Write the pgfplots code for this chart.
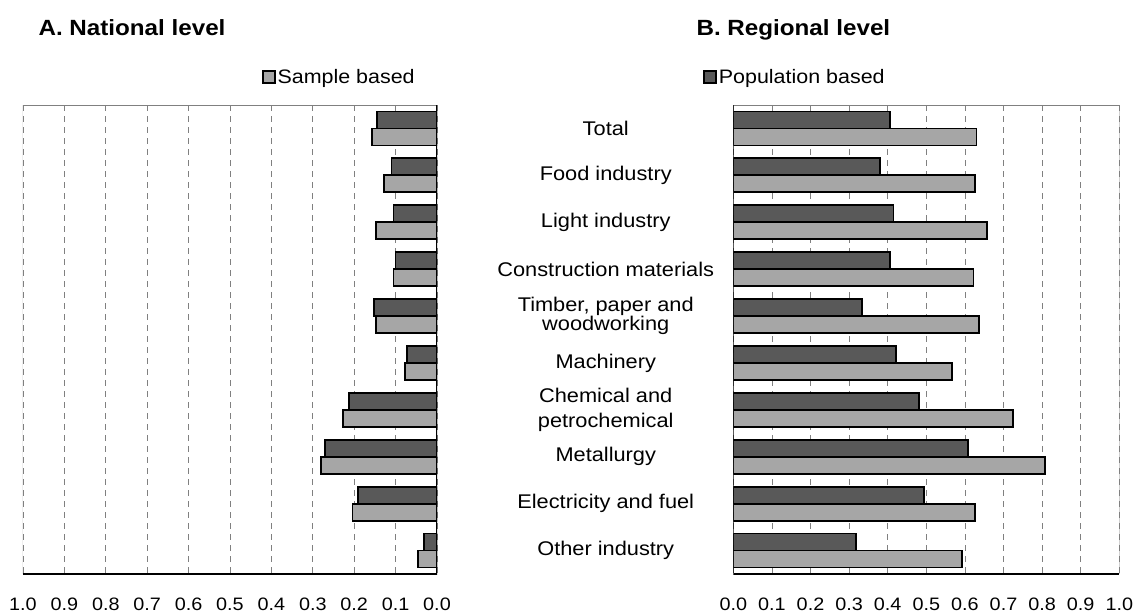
\documentclass[border=0pt]{standalone}
\usepackage{fontspec}
\setmainfont{Liberation Sans}[FakeStretch=1.1]
\usepackage{pgfplots}
\pgfplotsset{compat=1.18}
\definecolor{dk}{RGB}{89,89,89}
\definecolor{lt}{RGB}{166,166,166}
\definecolor{fr}{RGB}{128,128,128}
\pgfplotsset{
  mybase/.style={
    scale only axis, height=469pt,
    xbar, bar width=17pt,
    xmin=0, xmax=1, ymin=-0.5, ymax=9.5, y dir=reverse,
    xtick={0,0.1,0.2,0.3,0.4,0.5,0.6,0.7,0.8,0.9,1.0},
    xticklabel style={anchor=center, yshift=-30.5pt, font=\fontsize{18}{21}\selectfont,
      /pgf/number format/.cd, fixed, fixed zerofill, precision=1, assume math mode=true},
    xmajorgrids, grid style={fr, dash pattern=on 6pt off 5pt, line width=0.8pt},
    tick style={draw=none},
    axis line style={draw=none},
    ytick={0,1,2,3,4,5,6,7,8,9},
    legend image code/.code={\draw[#1, draw=black, line width=1.5pt] (0pt,-6pt) rectangle (12pt,6pt);},
    legend style={draw=none, fill=none, inner sep=0pt, font=\fontsize{19.5}{23}\selectfont, anchor=west, legend cell align=left},
  }
}
\begin{document}
\begin{tikzpicture}
\path[use as bounding box] (0pt,0pt) rectangle (1135pt,-614pt);
\node[anchor=base west, font=\fontsize{22}{26}\selectfont\bfseries] at (35pt,-35pt) {A. National level};
\node[anchor=base west, font=\fontsize{22}{26}\selectfont\bfseries] at (693pt,-35pt) {B. Regional level};
% Left: national
\begin{axis}[mybase, width=414pt, at={(23pt,-574pt)}, anchor=south west,
  x dir=reverse, yticklabels={},
  legend style={at={(0.577,1.0597)}}]
\addplot[fill=dk, draw=black, line width=1.8pt, bar shift=8.5pt, forget plot] coordinates {
(0.144,0) (0.110,1) (0.105,2) (0.100,3) (0.152,4) (0.072,5) (0.213,6) (0.271,7) (0.190,8) (0.031,9)};
\addplot[fill=lt, draw=black, line width=1.8pt, bar shift=-8.5pt] coordinates {
(0.157,0) (0.128,1) (0.147,2) (0.105,3) (0.147,4) (0.078,5) (0.227,6) (0.280,7) (0.204,8) (0.046,9)};
\addlegendentry{Sample based}
\draw[fr, line width=1pt] (rel axis cs:0,0) -- (rel axis cs:0,1) -- (rel axis cs:1,1);
\draw[black, line width=1.3pt] (rel axis cs:1,1) -- (rel axis cs:1,0) -- (rel axis cs:0,0);
\end{axis}
% Right: regional
\begin{axis}[mybase, width=386pt, at={(733.3pt,-574pt)}, anchor=south west,
  yticklabels={Total, Food industry, Light industry, Construction materials,
    {Timber, paper and\\[-4.5pt]woodworking}, Machinery, {Chemical and\\[2pt]petrochemical},
    Metallurgy, Electricity and fuel, Other industry},
  yticklabel style={anchor=center, xshift=-123.3pt, align=center, font=\fontsize{19.8}{23}\selectfont},
  legend style={at={(-0.078,1.0597)}}]
\addplot[fill=dk, draw=black, line width=1.8pt, bar shift=8.5pt] coordinates {
(0.406,0) (0.380,1) (0.415,2) (0.405,3) (0.334,4) (0.421,5) (0.482,6) (0.607,7) (0.495,8) (0.317,9)};
\addlegendentry{Population based}
\addplot[fill=lt, draw=black, line width=1.8pt, bar shift=-8.5pt, forget plot] coordinates {
(0.630,0) (0.626,1) (0.658,2) (0.622,3) (0.637,4) (0.566,5) (0.725,6) (0.808,7) (0.627,8) (0.593,9)};
\draw[fr, line width=1pt] (rel axis cs:0,1) -- (rel axis cs:1,1) -- (rel axis cs:1,0);
\draw[black, line width=1.3pt] (rel axis cs:0,1) -- (rel axis cs:0,0) -- (rel axis cs:1,0);
\end{axis}
\end{tikzpicture}
\end{document}
